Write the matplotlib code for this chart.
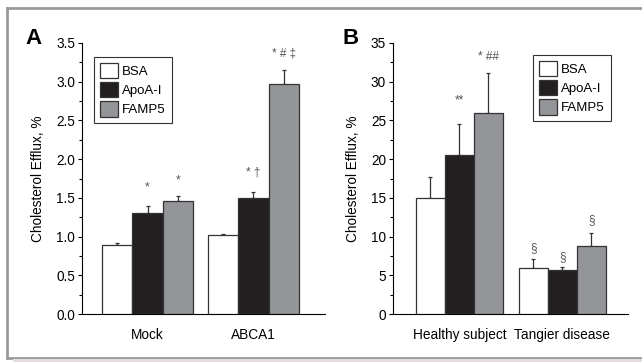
import numpy as np
import matplotlib
matplotlib.use("Agg")
from matplotlib import pyplot as plt
from matplotlib.lines import Line2D
from matplotlib.patches import Patch

plt.rcParams['font.family'] = ['Liberation Sans', 'DejaVu Sans']

series = ["BSA", "ApoA-I", "FAMP5"]
colors = ["white", "#231f20", "#939598"]

# panel A
groups_a = ["Mock", "ABCA1"]
vals_a = {"BSA": [0.89, 1.02], "ApoA-I": [1.31, 1.50], "FAMP5": [1.46, 2.97]}
err_a = {"BSA": [0.03, 0.01], "ApoA-I": [0.09, 0.07], "FAMP5": [0.07, 0.18]}
marks_a = {"ApoA-I": ["*", "* \u2020"], "FAMP5": ["*", "* # \u2021"]}
mark_y_a = {"ApoA-I": [1.63, 1.83], "FAMP5": [1.73, 3.37]}

# panel B
groups_b = ["Healthy subject", "Tangier disease"]
vals_b = {"BSA": [15.0, 5.9], "ApoA-I": [20.5, 5.7], "FAMP5": [25.9, 8.8]}
err_b = {"BSA": [2.7, 1.2], "ApoA-I": [4.1, 0.4], "FAMP5": [5.2, 1.6]}
marks_b = {"BSA": ["", "\u00a7"], "ApoA-I": ["**", "\u00a7"], "FAMP5": ["* ##", "\u00a7"]}
mark_y_b = {"BSA": [0, 8.5], "ApoA-I": [27.6, 7.4], "FAMP5": [33.2, 12.1]}

fig = plt.figure(figsize=(6.42, 3.62), dpi=100)

# gray frame
frame_kw = dict(color="#9a9a9a", lw=2.0, transform=fig.transFigure)
fig.add_artist(Line2D([7/642, 1], [1-8/362, 1-8/362], **frame_kw))
fig.add_artist(Line2D([7/642, 7/642], [1-8/362, 1-358/362], **frame_kw))
fig.add_artist(Line2D([7/642, 1], [1-358/362, 1-358/362], **frame_kw))
fig.add_artist(Line2D([15/642, 1], [1-361/362, 1-361/362], color="#e6dcdc", lw=3,
                      transform=fig.transFigure))


def panel(ax, groups, vals, errs, marks, mark_y, centers, xmax, ylim, yticks, fmt):
    for i, s in enumerate(series):
        x = np.array(centers) + (i - 1)
        ax.bar(x, vals[s], width=1.0, color=colors[i], edgecolor="#333333",
               linewidth=0.9, zorder=3, label=s)
        ax.errorbar(x, vals[s], yerr=[[0] * len(x), errs[s]], fmt="none",
                    ecolor="#333333", elinewidth=0.9, capsize=1.5, capthick=0.9, zorder=2)
        if s in marks:
            for xx, m, yy in zip(x, marks[s], mark_y[s]):
                if m:
                    ax.text(xx, yy, m, ha="center", va="center", fontsize=8.5, color="#555555")
    ax.set_xlim(0, xmax)
    ax.set_ylim(*ylim)
    ax.set_yticks(yticks)
    ax.set_yticklabels([fmt.format(t) for t in yticks], fontsize=9.8)
    ax.set_yticks(np.array(yticks[:-1]) + (yticks[1] - yticks[0]) / 2, minor=True)
    ax.set_xticks(centers)
    ax.set_xticklabels(groups, fontsize=9.8)
    ax.tick_params(axis="x", length=0, pad=10)
    ax.tick_params(axis="y", which="major", length=3, width=0.8, pad=2)
    ax.tick_params(axis="y", which="minor", length=2, width=0.8)
    ax.spines["top"].set_visible(False)
    ax.spines["right"].set_visible(False)
    ax.spines["left"].set_linewidth(0.8)
    ax.spines["bottom"].set_linewidth(0.8)
    ax.set_ylabel("Cholesterol Efflux, %", fontsize=9.8, labelpad=8)


leg_kw = dict(loc="upper left", fontsize=9.5, frameon=True, fancybox=False,
              edgecolor="#333333", handlelength=1.4, handleheight=1.4, handletextpad=0.3,
              labelspacing=0.3, borderpad=0.45, borderaxespad=0, framealpha=1)

ax1 = fig.add_axes([82/642, 1-314/362, (325-82)/642, 271/362])
panel(ax1, groups_a, vals_a, err_a, marks_a, mark_y_a, [2.15, 5.62], 7.97,
      (0, 3.5), [0.0, 0.5, 1.0, 1.5, 2.0, 2.5, 3.0, 3.5], "{:.1f}")
handles = [Patch(facecolor=c, edgecolor="#333333", linewidth=0.9) for c in colors]
ax1.legend(handles, series, bbox_to_anchor=(12/243, 1-14/271),
           **leg_kw).get_frame().set_linewidth(0.8)

ax2 = fig.add_axes([393/642, 1-314/362, (628-393)/642, 271/362])
panel(ax2, groups_b, vals_b, err_b, marks_b, mark_y_b, [2.29, 5.84], 8.10,
      (0, 35), [0, 5, 10, 15, 20, 25, 30, 35], "{:d}")
ax2.legend(handles, series, bbox_to_anchor=(140/235, 1-12/271),
           **leg_kw).get_frame().set_linewidth(0.8)

fig.text(25/642, 1-38/362, "A", fontsize=16, fontweight="bold", va="center", ha="left")
fig.text(343/642, 1-38/362, "B", fontsize=16, fontweight="bold", va="center", ha="left")

plt.savefig("out.png", dpi=100)
plt.close()
